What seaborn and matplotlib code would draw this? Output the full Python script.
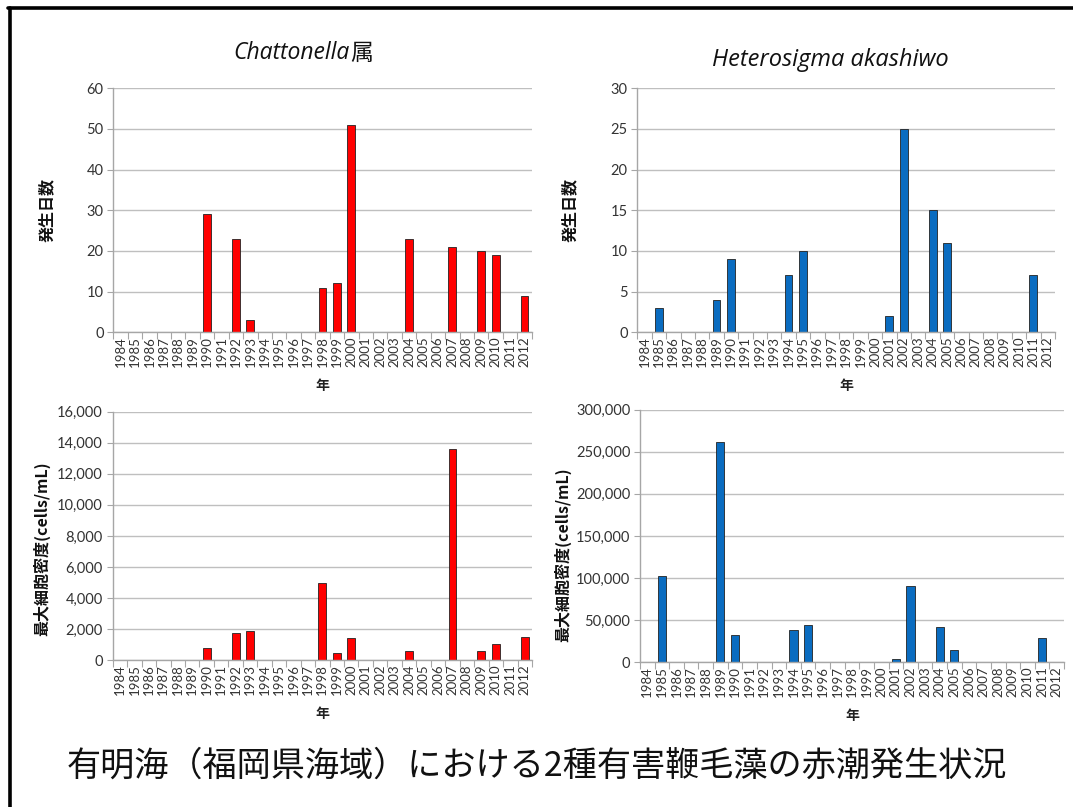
import matplotlib
matplotlib.use("Agg")
import matplotlib.pyplot as plt
import seaborn as sns
import pandas as pd
from matplotlib.lines import Line2D
from matplotlib.ticker import FuncFormatter, FixedLocator

years = [str(y) for y in range(1984, 2013)]

# Chattonella: occurrence days (発生日数)
chat_days = [0, 0, 0, 0, 0, 0, 29, 0, 23, 3, 0, 0, 0, 0, 11, 12, 51, 0, 0, 0,
             23, 0, 0, 21, 0, 20, 19, 0, 9]
# Heterosigma akashiwo: occurrence days
het_days = [0, 3, 0, 0, 0, 4, 9, 0, 0, 0, 7, 10, 0, 0, 0, 0, 0, 2, 25, 0,
            15, 11, 0, 0, 0, 0, 0, 7, 0]
# Chattonella: maximum cell density (cells/mL)
chat_dens = [0, 0, 0, 0, 0, 0, 800, 0, 1750, 1900, 0, 0, 0, 0, 5000, 500, 1450,
             0, 0, 0, 600, 0, 0, 13600, 0, 600, 1050, 0, 1500]
# Heterosigma akashiwo: maximum cell density (cells/mL)
het_dens = [0, 102500, 0, 0, 0, 262000, 32000, 0, 0, 0, 38500, 44500, 0, 0, 0,
            0, 0, 4000, 90000, 0, 42000, 14500, 0, 0, 0, 0, 0, 28500, 0]

title_chat = "Chattonella"
title_chat_suffix = "属"
title_het = "Heterosigma akashiwo"
ylabel_days = "発生日数"
ylabel_dens = "最大細胞密度(cells/mL)"
xlabel = "年"
main_title = "有明海（福岡県海域）における2種有害鞭毛藻の赤潮発生状況"

RED = "#FF0000"
BLUE = "#0A6CC0"
GRID = "#BFBFBF"

sns.set_theme(style="white")
plt.rcParams['font.family'] = ['Lato', 'Noto Sans CJK JP', 'DejaVu Sans']
CJK = ['Noto Sans CJK JP', 'DejaVu Sans']

W, H = 1073, 807
fig = plt.figure(figsize=(W / 100, H / 100), dpi=100)


def px_rect(x0, x1, ytop, ybot):
    return [x0 / W, 1 - ybot / H, (x1 - x0) / W, (ybot - ytop) / H]


def draw(ax, vals, color, ymax, step, thousands, ylabel, ylab_x, ylab_y=0.5):
    df = pd.DataFrame({"year": years, "v": vals})
    df = df[df["v"] > 0]
    sns.barplot(data=df, x="year", y="v", order=years, color=color, ax=ax,
                width=0.55, edgecolor="#222222", linewidth=0.6, saturation=1)
    ax.set_xlim(-0.5, len(years) - 0.5)
    ax.set_ylim(0, ymax)
    ax.set_yticks(list(range(0, ymax + 1, step)))
    if thousands:
        ax.yaxis.set_major_formatter(FuncFormatter(lambda v, p: f"{v:,.0f}"))
    ax.yaxis.grid(True, color=GRID, linewidth=1.0)
    ax.set_axisbelow(True)
    for s in ["top", "right"]:
        ax.spines[s].set_visible(False)
    for s in ["left", "bottom"]:
        ax.spines[s].set_color("#A6A6A6")
        ax.spines[s].set_linewidth(1.0)
    ax.tick_params(axis="y", which="major", length=4, width=0.8, color="#A6A6A6",
                   labelsize=10.5, labelcolor="#333333", pad=3, left=True)
    ax.tick_params(axis="x", which="major", length=0, labelsize=9.5,
                   labelcolor="#333333", pad=3, labelrotation=90)
    ax.xaxis.set_minor_locator(FixedLocator([i - 0.5 for i in range(len(years) + 1)]))
    ax.tick_params(axis="x", which="minor", length=5, width=0.8, color="#A6A6A6",
                   bottom=True)
    ax.set_xlabel(xlabel, family=CJK, fontsize=10, fontweight="bold",
                  color="#222222", labelpad=8)
    ax.set_ylabel(ylabel, family=CJK, fontsize=11.5, fontweight="bold",
                  color="#111111")
    ax.yaxis.set_label_coords(ylab_x, ylab_y)


ax1 = fig.add_axes(px_rect(113.3, 531.7, 88.3, 332.3))
draw(ax1, chat_days, RED, 60, 10, False, ylabel_days, -0.14)
ax2 = fig.add_axes(px_rect(637.3, 1055, 88.3, 332.3))
draw(ax2, het_days, BLUE, 30, 5, False, ylabel_days, -0.143)
ax3 = fig.add_axes(px_rect(112.7, 532, 411.6, 660.3))
draw(ax3, chat_dens, RED, 16000, 2000, True, ylabel_dens, -0.148, 0.45)
ax4 = fig.add_axes(px_rect(640, 1064, 409.5, 662.3))
draw(ax4, het_dens, BLUE, 300000, 50000, True, ylabel_dens, -0.163, 0.427)

# panel titles
fig.text(373 / W, 1 - 53 / H, title_chat_suffix, ha="right", va="center",
         fontsize=16.5, family=CJK, color="#111111")
fig.text(350 / W, 1 - 53 / H, title_chat, ha="right", va="center",
         fontsize=16.5, style="italic", family=['Open Sans', 'DejaVu Sans'],
         color="#111111")
fig.text(830 / W, 1 - 60 / H, title_het, ha="center", va="center",
         fontsize=17, style="italic", family=['Open Sans', 'DejaVu Sans'],
         color="#111111")

# main caption
fig.text(67 / W, 1 - 766 / H, main_title, ha="left", va="center",
         fontsize=24.6, family=CJK, color="#111111")

# frame
fig.add_artist(Line2D([9.5 / W, 9.5 / W], [0, 1 - 8 / H], color="black",
                      linewidth=2.6, transform=fig.transFigure))
fig.add_artist(Line2D([8 / W, 1], [1 - 8 / H, 1 - 8 / H], color="black",
                      linewidth=2.6, transform=fig.transFigure))

fig.savefig("out.png", dpi=100)
